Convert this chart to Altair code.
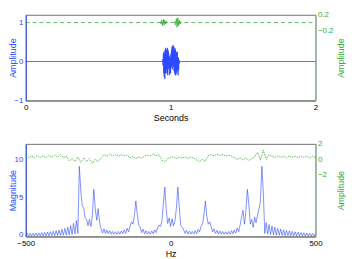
import altair as alt
import pandas as pd

BLUE = "#2a48ff"
BLUE_LINE = "#2a48ff"
GREEN = "#33aa33"
FRAME = "#707070"
RIGHT_DOMAIN = "#86b89c"
FONT = "Liberation Sans"

# ---- top panel: time signal (Seconds) ----
top_t_blue = [0.0, 0.944, 0.946, 0.948, 0.950, 0.952, 0.954, 0.956, 0.958, 0.960,
              0.962, 0.964, 0.966, 0.968, 0.970, 0.972, 0.974, 0.976, 0.978, 0.980,
              0.982, 0.984, 0.986, 0.988, 0.990, 0.992, 0.994, 0.996, 0.998, 1.000,
              1.002, 1.004, 1.006, 1.008, 1.010, 1.012, 1.014, 1.016, 1.018, 1.020,
              1.022, 1.024, 1.026, 1.028, 1.030, 1.032, 1.034, 1.036, 1.038, 1.040,
              1.042, 1.044, 1.046, 1.048, 1.050, 1.052, 1.054, 1.056, 1.058, 1.060,
              1.062, 2.0]
top_v_blue = [0.0, 0.0, 0.05, -0.1, 0.2, -0.3, 0.25, -0.4, 0.2, -0.45,
              0.3, -0.3, 0.35, -0.3, 0.3, -0.2, 0.3, -0.3, 0.35, -0.35,
              0.3, -0.2, 0.25, -0.15, 0.15, -0.35, 0.1, -0.3, 0.12, -0.3,
              0.2, -0.15, 0.3, -0.1, 0.38, -0.2, 0.4, -0.15, 0.42, -0.1,
              0.38, -0.25, 0.3, -0.3, 0.35, -0.35, 0.3, -0.35, 0.2, -0.3,
              0.25, -0.2, 0.25, -0.25, 0.1, -0.35, 0.1, -0.2, 0.05, -0.05,
              0.0, 0.0]

# green trace: flat dashed baseline plus two small bursts
top_t_green_base = [0.0, 2.0]
top_v_green_base = [0.0, 0.0]
top_t_green_burst = [0.925, 0.93, 0.935, 0.94, 0.945, 0.95, 0.955, 0.96, 0.965,
                     0.97, 0.975, 0.98, 1.025, 1.03, 1.035, 1.04, 1.045, 1.05, 1.055,
                     1.06, 1.065, 1.07, 1.075]
top_v_green_burst = [0.0, 0.02, -0.04, 0.06, -0.08, 0.08, -0.06, 0.06, -0.04,
                     0.03, -0.01, 0.0, 0.0, 0.03, -0.06, 0.1, -0.12, 0.12, -0.08,
                     0.06, -0.04, 0.02, 0.0]
top_g_burst_id = [1] * 12 + [2] * 11

# ---- bottom panel: spectrum (Hz) ----
spec_freq = list(range(-500, 505, 5))
spec_mag = [
    0.05, 0.38, 0.05, 0.40, 0.05, 0.42, 0.06, 0.44, 0.06, 0.47,
    0.07, 0.50, 0.08, 0.54, 0.08, 0.58, 0.09, 0.63, 0.10, 0.68,
    0.11, 0.75, 0.12, 0.83, 0.14, 0.92, 0.16, 1.05, 0.18, 1.20,
    0.22, 1.40, 0.28, 1.70, 0.35, 2.05, 0.40, 9.10, 6.00, 4.00,
    3.70, 2.40, 2.20, 1.40, 2.20, 1.30, 2.80, 6.10, 3.60, 2.10,
    3.60, 1.80, 1.00, 0.45, 1.00, 0.40, 0.85, 0.35, 0.75, 0.30,
    0.65, 0.28, 0.62, 0.28, 0.65, 0.30, 0.70, 0.35, 0.85, 0.40,
    1.05, 0.60, 1.30, 1.90, 1.60, 2.70, 4.60, 2.90, 1.50, 1.20,
    0.50, 0.95, 0.35, 0.75, 0.30, 0.65, 0.30, 0.70, 0.35, 0.85,
    0.50, 1.10, 1.50, 1.30, 2.00, 4.20, 6.40, 3.40, 1.70, 2.40,
    1.30,
    2.30, 1.40, 2.00, 3.60, 6.40, 3.80, 1.40, 1.20, 0.90, 0.40,
    0.80, 0.30, 0.70, 0.30, 0.65, 0.30, 0.75, 0.35, 0.90, 0.60,
    1.30, 1.60, 2.80, 4.60, 2.60, 1.60, 1.90, 1.30, 0.60, 1.00,
    0.40, 0.80, 0.32, 0.70, 0.30, 0.65, 0.28, 0.62, 0.28, 0.65,
    0.30, 0.75, 0.35, 0.85, 0.45, 1.10, 0.60, 1.50, 2.50, 3.40,
    1.60, 3.30, 6.10, 4.20, 1.60, 2.20, 1.20, 2.50, 1.80, 2.70,
    3.60, 4.50, 9.10, 5.80, 0.40, 1.80, 0.30, 1.55, 0.25, 1.35,
    0.22, 1.20, 0.18, 1.05, 0.16, 0.95, 0.14, 0.85, 0.12, 0.78,
    0.11, 0.72, 0.10, 0.66, 0.09, 0.60, 0.08, 0.56, 0.08, 0.52,
    0.07, 0.48, 0.06, 0.45, 0.06, 0.42, 0.05, 0.40, 0.05, 0.38,
]

phase_freq = list(range(-500, 510, 10))
phase_val = [
    0.45, 0.2, 0.45, 0.2, 0.5, 0.25, 0.45, 0.2, 0.5, 0.25, 0.55, 0.3,
    0.6, 0.2, 0.4, -0.2, 0.1, -0.3, 0.3, -0.4, 0.2,
    -0.3, 0.1, -0.5, 0.0, -0.3, 0.2,
    0.6, 0.4, 0.7, 0.45, 0.65, 0.4, 0.6, 0.45, 0.55,
    0.2, 0.35, 0.1, 0.3, 0.15, 0.4,
    0.55, 0.4, 0.7, 0.45, 0.6,
    -0.1, -0.35, 0.1, 0.2,
    0.35, 0.1, 0.3, 0.15, 0.3, 0.1, 0.3, 0.15,
    -0.1, -0.3, 0.0, -0.25,
    0.5, 0.6, 0.45, 0.65, 0.5, 0.6, 0.45, 0.55, 0.4,
    0.2, 0.0, 0.15, -0.1, 0.2, -0.15, 0.1, 0.3,
    0.9, -0.1, 1.2, 0.0, 0.6,
    0.4, 0.25, 0.45, 0.25, 0.4, 0.2, 0.45, 0.25, 0.4, 0.2, 0.45, 0.25, 0.4, 0.2, 0.4, 0.25,
]

top_x_ticks = [0, 1, 2]
top_left_ticks = [-1, 0, 1]
top_right_ticks = [-0.2, 0, 0.2]
bot_x_ticks = [-500, 0, 500]
bot_left_ticks = [0, 5, 10]
bot_right_ticks = [-2, 0, 2]

df_tb = pd.DataFrame({"t": top_t_blue, "v": top_v_blue})
df_tgb = pd.DataFrame({"t": top_t_green_base, "v": top_v_green_base})
df_tgx = pd.DataFrame({"t": top_t_green_burst, "v": top_v_green_burst, "g": top_g_burst_id})
df_sm = pd.DataFrame({"f": spec_freq, "m": spec_mag})
df_ph = pd.DataFrame({"f": phase_freq, "p": phase_val})

FMT = "~r"
TOP_RIGHT_DOMAIN = [-2, 0.2]


def x_axis(title, values, label_pad, title_y):
    return alt.Axis(values=values, title=title, format=FMT, grid=False, ticks=False,
                    domainColor=FRAME, labelColor="black", titleColor="black",
                    labelPadding=label_pad, labelBaseline="middle", labelFlush=False,
                    titleY=title_y, titleBaseline="middle")


def left_axis(title, values, bottom_label_lift=0):
    kw = {}
    if bottom_label_lift:
        kw["labelOffset"] = {"condition": {"test": "datum.value == 0", "value": -bottom_label_lift},
                             "value": 0}
    return alt.Axis(values=values, orient="left", title=title, format=FMT, grid=False,
                    ticks=False, domainColor=BLUE, labelColor=BLUE, titleColor=BLUE,
                    labelPadding=3, titleX=-10, titleBaseline="alphabetic", titleAngle=270,
                    **kw)


def right_axis(title, values):
    return alt.Axis(values=values, orient="right", title=title, format=FMT, grid=False,
                    ticks=False, domainColor=RIGHT_DOMAIN, labelColor=GREEN, titleColor=GREEN,
                    labelPadding=2, titleX=28.5, titleBaseline="alphabetic", titleAngle=270)


top_blue = alt.Chart(df_tb).mark_line(color=BLUE_LINE, strokeWidth=0.8).encode(
    x=alt.X("t:Q", scale=alt.Scale(domain=[0, 2], nice=False),
            axis=x_axis("Seconds", top_x_ticks, 7.5, 17)),
    y=alt.Y("v:Q", scale=alt.Scale(domain=[-1, 1.2], nice=False),
            axis=left_axis("Amplitude", top_left_ticks)),
)
top_green = alt.Chart(df_tgb).mark_line(color=GREEN, strokeWidth=0.8, strokeDash=[4, 3]).encode(
    x=alt.X("t:Q"),
    y=alt.Y("v:Q", scale=alt.Scale(domain=TOP_RIGHT_DOMAIN, nice=False),
            axis=right_axis("Amplitude", top_right_ticks)),
)
top_green_burst = alt.Chart(df_tgx).mark_line(color=GREEN, strokeWidth=0.8).encode(
    x=alt.X("t:Q"),
    y=alt.Y("v:Q", scale=alt.Scale(domain=TOP_RIGHT_DOMAIN, nice=False), axis=None),
    detail="g:N",
)
top = alt.layer(top_blue, top_green, top_green_burst).resolve_scale(
    y="independent").properties(width=294, height=87)

bot_blue = alt.Chart(df_sm).mark_line(color=BLUE_LINE, strokeWidth=0.7, opacity=0.85).encode(
    x=alt.X("f:Q", scale=alt.Scale(domain=[-500, 500], nice=False),
            axis=x_axis("Hz", bot_x_ticks, 7, 17)),
    y=alt.Y("m:Q", scale=alt.Scale(domain=[0, 12], nice=False),
            axis=left_axis("Magnitude", bot_left_ticks, bottom_label_lift=2)),
)
bot_green = alt.Chart(df_ph).mark_line(color=GREEN, strokeWidth=0.8, strokeDash=[1.5, 1]).encode(
    x=alt.X("f:Q"),
    y=alt.Y("p:Q", scale=alt.Scale(domain=[-10, 2], nice=False),
            axis=right_axis("Amplitude", bot_right_ticks)),
)
bottom = alt.layer(bot_blue, bot_green).resolve_scale(y="independent").properties(
    width=294, height=94)

chart = alt.vconcat(top, bottom, spacing=16).properties(
    padding={"left": 0, "top": 0, "right": 0, "bottom": 0},
    background="white",
).configure_view(stroke=FRAME, strokeWidth=1).configure_axis(
    labelFont=FONT, titleFont=FONT, labelFontSize=8, titleFontSize=9,
    titleFontWeight="normal", domainWidth=1,
)

chart.save("out.html", embed_options={"renderer": "svg", "actions": False})
